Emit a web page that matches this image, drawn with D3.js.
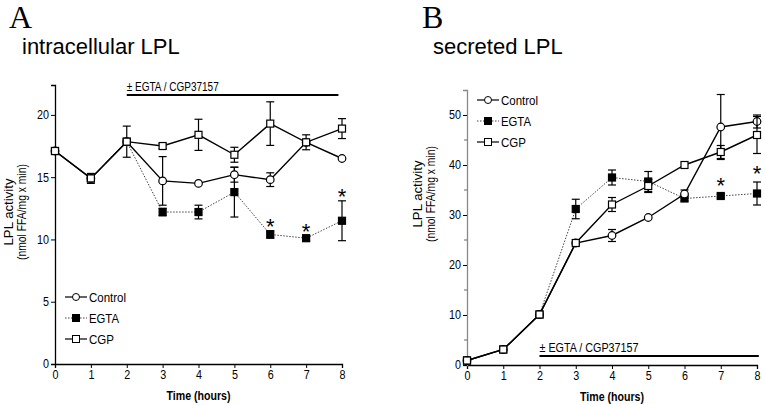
<!DOCTYPE html>
<html><head><meta charset="utf-8">
<script src="https://cdn.jsdelivr.net/npm/d3@7"></script>
<style>
body{margin:0;background:#fff;}
svg{display:block;}
text{font-family:"Liberation Sans",Arial,sans-serif;}
</style></head><body>
<svg id="c" width="765" height="405"></svg>
<script>
const hours = [0,1,2,3,4,5,6,7,8];
const xTicks = [0,1,2,3,4,5,6,7,8];
const seriesNames = ["Control","EGTA","CGP"];

// Panel A: intracellular LPL
const aControl = [17.1,14.9,17.85,14.7,14.5,15.2,14.8,17.8,16.5];
const aControlErr = [0,0,0,1.95,0,0.6,0.55,0,0];
const aEGTA = [17.1,14.9,17.85,12.2,12.2,13.8,10.4,10.1,11.5];
const aEGTAErr = [0,0,0,0.3,0.55,2.0,0.3,0.2,1.6];
const aCGP = [17.1,14.9,17.85,17.5,18.4,16.8,19.3,17.8,18.9];
const aCGPErr = [0.2,0.4,1.25,0.2,1.25,0.6,1.75,0.6,0.8];
const aYTicks = [0,5,10,15,20];
const aStars = [6,7,8];

// Panel B: secreted LPL
const bControl = [0.9,3.1,10.1,24.4,25.9,29.5,34.2,47.6,48.7];
const bControlErr = [0,0,0,0,1.2,0,0.8,6.5,1.3];
const bEGTA = [0.9,3.1,10.1,31.2,37.5,36.7,33.3,33.8,34.3];
const bEGTAErr = [0,0,0,1.95,1.5,2.0,0.5,0.4,2.3];
const bCGP = [0.9,3.1,10.1,24.4,32.1,35.8,40.0,42.6,46.0];
const bCGPErr = [0.6,0,0,0,1.4,1.3,0,1.3,3.7];
const bYTicks = [0,10,20,30,40,50];
const bMinor = [5,15,25,35,45];
const bStars = [7,8];

const treatmentLabel = "± EGTA / CGP37157";

const svg = d3.select("#c");
const legWidths = {Control:37, EGTA:30, CGP:25};

function panel(o){
  const g = svg.append("g");
  const x = d3.scaleLinear().domain(o.xDomain).range(o.xRange);
  const y = d3.scaleLinear().domain(o.yDomain).range(o.yRange);
  const xa = g.append("g").attr("transform",`translate(0,${o.yRange[0]})`)
    .call(d3.axisBottom(x).tickValues(xTicks).tickSize(4).tickPadding(2).tickFormat(d3.format("d")));
  const ya = g.append("g").attr("transform",`translate(${o.xRange[0]},0)`)
    .call(d3.axisLeft(y).tickValues(o.yTicks).tickSize(4).tickPadding(2).tickFormat(d3.format("d")));
  [xa,ya].forEach(a=>{
    a.select(".domain").attr("stroke","#000").attr("stroke-width",1.3);
    a.selectAll(".tick line").attr("stroke","#000");
    a.selectAll(".tick text").attr("font-size",12).attr("fill","#000").style("font-family","'Liberation Sans',Arial,sans-serif")
      .attr("textLength",function(){return this.textContent.length*6;}).attr("lengthAdjust","spacingAndGlyphs");
  });
  ya.select(".domain").attr("stroke",o.yAxisColor||"#000");
  if(o.minor){
    ya.selectAll(".minor").data(o.minor).enter().append("line")
      .attr("x1",-3).attr("x2",0).attr("y1",d=>y(d)).attr("y2",d=>y(d)).attr("stroke","#666");
  }
  g.append("text").attr("x",(x(0)+x(8))/2).attr("y",o.xLabelY).attr("text-anchor","middle")
    .attr("font-size",12).attr("font-weight","bold").attr("textLength",64).attr("lengthAdjust","spacingAndGlyphs").text("Time (hours)");
  g.append("text").attr("transform",`translate(${o.yLab1X},${o.yLabY}) rotate(-90)`)
    .attr("text-anchor","middle").attr("font-size",12.5).attr("textLength",67).attr("lengthAdjust","spacingAndGlyphs").text("LPL activity");
  g.append("text").attr("transform",`translate(${o.yLab2X},${o.yLabY}) rotate(-90)`)
    .attr("text-anchor","middle").attr("font-size",12.5).attr("textLength",96).attr("lengthAdjust","spacingAndGlyphs").text("(nmol FFA/mg x min)");
  g.append("text").attr("x",o.letterX).attr("y",28).attr("font-size",32)
    .style("font-family","'Liberation Serif','Times New Roman',serif").text(o.letter);
  g.append("text").attr("x",o.titleX).attr("y",54).attr("font-size",22).text(o.title);
  g.append("line").attr("x1",x(2)).attr("x2",x(o.barEnd)).attr("y1",o.barY).attr("y2",o.barY)
    .attr("stroke","#000").attr("stroke-width",2);
  g.append("text").attr("x",x(2)).attr("y",o.barY-4).attr("font-size",12).attr("textLength",o.barTextLen)
    .attr("lengthAdjust","spacingAndGlyphs").text(treatmentLabel);

  const series = [
    {name:"EGTA",v:o.egta,e:o.egtaErr,sym:"sq",fill:"#000",dash:"1.5,1.5",sw:1},
    {name:"Control",v:o.control,e:o.controlErr,sym:"circ",fill:"#fff",dash:null,sw:1.4},
    {name:"CGP",v:o.cgp,e:o.cgpErr,sym:"sq",fill:"#fff",dash:null,sw:1.4}
  ];
  const line = d3.line().x((d,i)=>x(hours[i])).y(d=>y(d));
  series.forEach(s=>{
    g.append("path").datum(s.v).attr("d",line).attr("fill","none").attr("stroke",s.dash?"#444":"#000")
      .attr("stroke-width",s.sw).attr("stroke-dasharray",s.dash);
  });
  series.forEach(s=>{
    s.v.forEach((v,i)=>{
      const e = s.e[i];
      if(e>0){
        const cx = x(hours[i]);
        g.append("line").attr("x1",cx).attr("x2",cx).attr("y1",y(v-e)).attr("y2",y(v+e)).attr("stroke","#000").attr("stroke-width",1.2);
        [v-e,v+e].forEach(t=>g.append("line").attr("x1",cx-4).attr("x2",cx+4).attr("y1",y(t)).attr("y2",y(t)).attr("stroke","#000").attr("stroke-width",1.2));
      }
    });
    s.v.forEach((v,i)=>{
      const cx = x(hours[i]), cy=y(v);
      if(s.sym==="sq") g.append("rect").attr("x",cx-3.5).attr("y",cy-3.5).attr("width",7).attr("height",7)
        .attr("fill",s.fill).attr("stroke","#000").attr("stroke-width",1.2);
      else g.append("circle").attr("cx",cx).attr("cy",cy).attr("r",3.8).attr("fill",s.fill).attr("stroke","#000").attr("stroke-width",1.2);
    });
  });
  o.stars.forEach(h=>{
    const i = hours.indexOf(h);
    g.append("text").attr("x",x(h)).attr("y",y(o.egta[i]+o.egtaErr[i])+o.starOff).attr("text-anchor","middle")
      .attr("font-size",22).text("*");
  });
  const leg = g.append("g");
  series.slice().sort((a,b)=>seriesNames.indexOf(a.name)-seriesNames.indexOf(b.name)).forEach((s,k)=>{
    const ly = o.legY + k*o.legStep;
    leg.append("line").attr("x1",o.legX).attr("x2",o.legX+22).attr("y1",ly).attr("y2",ly)
      .attr("stroke",s.dash?"#444":"#000").attr("stroke-width",s.dash?1:1.2).attr("stroke-dasharray",s.dash);
    const mx = o.legX+11;
    if(s.sym==="sq") leg.append("rect").attr("x",mx-3.5).attr("y",ly-3.5).attr("width",7).attr("height",7).attr("fill",s.fill).attr("stroke","#000");
    else leg.append("circle").attr("cx",mx).attr("cy",ly).attr("r",3.5).attr("fill",s.fill).attr("stroke","#000");
    leg.append("text").attr("x",o.legX+24).attr("y",ly+4.5).attr("font-size",13)
      .attr("textLength",legWidths[s.name]).attr("lengthAdjust","spacingAndGlyphs").text(s.name);
  });
}

panel({xDomain:[0,8],xRange:[55,342],yDomain:[0,22.4],yRange:[364,85],yTicks:aYTicks,
  control:aControl,controlErr:aControlErr,egta:aEGTA,egtaErr:aEGTAErr,cgp:aCGP,cgpErr:aCGPErr,
  stars:aStars,starOff:3,xLabelY:400,yLab1X:13,yLab2X:26,yLabY:212,letter:"A",letterX:9,title:"intracellular LPL",titleX:22,
  barY:95,barEnd:7.9,barTextLen:92,legX:65,legY:297,legStep:21});

panel({xDomain:[0,8],xRange:[467,757],yDomain:[0,55],yRange:[365,90],yTicks:bYTicks,minor:bMinor,yAxisColor:"#888",
  control:bControl,controlErr:bControlErr,egta:bEGTA,egtaErr:bEGTAErr,cgp:bCGP,cgpErr:bCGPErr,
  stars:bStars,starOff:-1,xLabelY:401,yLab1X:422,yLab2X:435,yLabY:194,letter:"B",letterX:422,title:"secreted LPL",titleX:433,
  barY:356,barEnd:8.05,barTextLen:99,legX:477,legY:100,legStep:21});
</script></body></html>
